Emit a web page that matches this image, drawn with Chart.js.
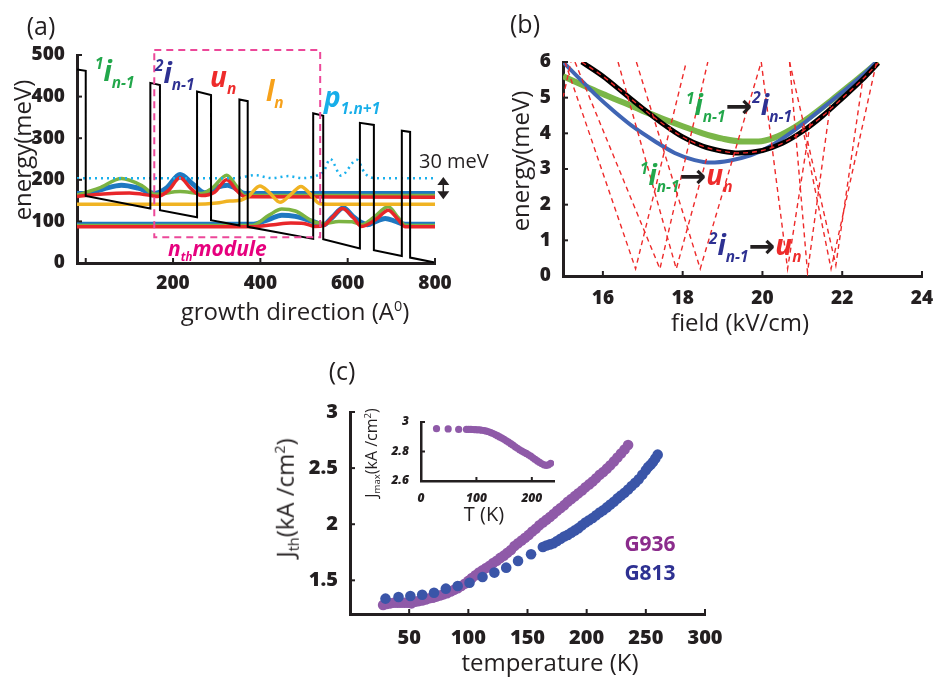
<!DOCTYPE html>
<html>
<head>
<meta charset="utf-8">
<script src="https://cdn.jsdelivr.net/npm/chart.js@4.4.1/dist/chart.umd.min.js"></script>
<style>
body{margin:0;background:#fff;width:940px;height:677px;position:relative;overflow:hidden;font-family:'Open Sans',sans-serif;color:#231f20;}
canvas{position:absolute;}
.t{position:absolute;white-space:nowrap;line-height:1;}
.t sup{font-size:0.6em;vertical-align:0.6em;}
.t sub{font-size:0.6em;vertical-align:-0.35em;}
.rot{transform:translate(-50%,-50%) rotate(-90deg);}
.ctr{transform:translate(-50%,-50%);}
.lab{position:absolute;white-space:nowrap;line-height:1;font-weight:bold;font-style:italic;font-size:28px;}
.lab sup{font-size:0.55em;vertical-align:0.75em;}
.lab sub{font-size:0.55em;vertical-align:-0.45em;}
.arr{font-style:normal;color:#231f20;font-family:'DejaVu Sans';font-weight:bold;font-size:32px;vertical-align:-0.05em;}
</style>
</head>
<body>
<canvas id="chartA" width="470" height="330" style="left:0;top:0;width:470px;height:330px"></canvas>
<canvas id="chartB" width="470" height="340" style="left:470px;top:0;width:470px;height:340px"></canvas>
<canvas id="chartC" width="470" height="347" style="left:270px;top:330px;width:470px;height:347px"></canvas>
<canvas id="chartD" width="200" height="120" style="left:370px;top:405px;width:200px;height:120px"></canvas>

<!-- panel (a) text -->
<div class="t ctr" style="left:41px;top:25px;font-size:25px">(a)</div>
<div class="t rot" style="left:22px;top:150px;font-size:24px">energy(meV)</div>
<div class="t ctr" style="left:295px;top:311px;font-size:24px">growth direction (A<sup>0</sup>)</div>
<div class="lab" style="left:95px;top:56px;color:#22a74b"><sup>1</sup>i<sub>n-1</sub></div>
<div class="lab" style="left:155px;top:58px;color:#2e3192"><sup>2</sup>i<sub>n-1</sub></div>
<div class="lab" style="left:210px;top:62px;color:#ee2b2b">u<sub>n</sub></div>
<div class="lab" style="left:266px;top:76px;color:#f7a11a">l<sub>n</sub></div>
<div class="lab" style="left:324px;top:82px;color:#17aee9">p<sub>1.n+1</sub></div>
<div class="lab" style="left:168px;top:238px;font-size:21px;color:#e6007e">n<sub>th</sub>module</div>
<div class="t" style="left:419px;top:151px;font-size:20px">30 meV</div>

<!-- panel (b) text -->
<div class="t ctr" style="left:525px;top:23px;font-size:25px">(b)</div>
<div class="t rot" style="left:520px;top:161px;font-size:24px">energy(meV)</div>
<div class="t ctr" style="left:740px;top:322px;font-size:24px">field (kV/cm)</div>
<div class="lab" style="left:686px;top:90px;color:#22a74b"><sup>1</sup>i<sub>n-1</sub><span class="arr">→</span><span style="color:#2e3192"><sup>2</sup>i<sub>n-1</sub></span></div>
<div class="lab" style="left:640px;top:160px;color:#22a74b"><sup>1</sup>i<sub>n-1</sub><span class="arr">→</span><span style="color:#ee2b2b">u<sub>n</sub></span></div>
<div class="lab" style="left:709px;top:230px;color:#2e3192"><sup>2</sup>i<sub>n-1</sub><span class="arr">→</span><span style="color:#ee2b2b">u<sub>n</sub></span></div>

<!-- panel (c) text -->
<div class="t ctr" style="left:342px;top:370px;font-size:25px">(c)</div>
<div class="t rot" style="left:287px;top:498px;font-size:24px">J<sub>th</sub>(kA /cm<sup>2</sup>)</div>
<div class="t ctr" style="left:550px;top:662px;font-size:24px">temperature (K)</div>
<div class="t rot" style="left:372px;top:453px;font-size:16px">J<sub>max</sub>(kA /cm<sup>2</sup>)</div>
<div class="t ctr" style="left:484px;top:514px;font-size:20px">T (K)</div>
<div class="t ctr" style="left:650px;top:543px;font-size:21px;font-weight:bold;color:#8b2c8c">G936</div>
<div class="t ctr" style="left:650px;top:572px;font-size:21px;font-weight:bold;color:#2e3192">G813</div>

<script>
// ---- panel (a): conduction band profile and wavefunctions (x in A, E in meV)
const xTicksA = [0, 200, 400, 600, 800];
const yTicksA = [0, 100, 200, 300, 400, 500];
const bandProfile = [[-20,465],[0,462],[0,161],[148,131],[148,433],[170,428],[170,127],[255,110],[255,412],[287,404],[287,103],[352,90],[352,393],[371,389],[371,87],[521,58],[521,360],[544,354],[544,57],[628,35],[628,337],[660,332],[660,31],[724,17],[724,318],[743,315],[743,13],[800,1]];
const moduleBox = [[157,512],[537,512],[537,62],[157,62],[157,512]];
const blueUpper = [[-20,167],[0,167],[40,178],[82,187],[120,180],[158,167],[185,180],[216,213],[245,190],[273,169],[300,182],[325,187],[342,180],[365,167],[800,167]];
const greenUpper = [[-20,163],[30,180],[82,203],[130,185],[158,165],[216,172],[265,167],[290,180],[323,211],[345,185],[365,162],[800,162]];
const redUpper = [[-20,160],[40,166],[100,168],[150,162],[165,160],[190,175],[216,205],[240,180],[265,162],[295,170],[323,200],[345,175],[365,159],[800,158]];
const orangeLn = [[-20,141],[250,141],[300,144],[330,149],[350,150],[372,160],[399,185],[420,170],[445,146],[470,165],[493,184],[515,165],[535,143],[560,141],[800,141]];
const cyanP = [[-20,204],[342,204],[388,211],[426,204],[464,209],[495,204],[529,210],[545,220],[560,250],[585,210],[621,248],[640,215],[663,204],[800,204]];
const blueLower = [[-20,93],[380,93],[420,105],[449,115],[480,112],[525,98],[545,92],[565,110],[590,133],[612,112],[632,97],[645,92],[665,100],[686,107],[710,100],[732,93],[800,93]];
const greenLower = [[-20,90],[380,90],[420,115],[449,130],[480,125],[525,98],[545,95],[580,100],[610,99],[632,92],[660,110],[693,135],[715,110],[732,91],[800,90]];
const redLower = [[-20,87],[380,87],[430,92],[470,96],[500,95],[525,88],[545,90],[565,110],[588,131],[612,110],[632,88],[665,105],[693,127],[715,105],[732,87],[800,87]];
const gapMarker = [819, 153, 207]; // x, lower E, upper E of the 30 meV arrow

// ---- panel (b): energy vs field
const xTicksB = [16, 18, 20, 22, 24];
const yTicksB = [0, 1, 2, 3, 4, 5, 6];
const blackB = [[15.47,6.0],[16.0,5.6],[16.5,5.15],[17,4.7],[17.5,4.27],[18,3.9],[18.5,3.64],[19,3.5],[19.4,3.45],[20,3.52],[20.5,3.72],[21,4.05],[21.5,4.48],[22,4.98],[22.5,5.5],[22.9,5.97]];
const blueB = [[15.0,6.0],[15.4,5.55],[15.8,5.1],[16.3,4.6],[16.8,4.15],[17.3,3.78],[17.8,3.45],[18.3,3.25],[18.7,3.18],[19.2,3.24],[19.7,3.38],[20.1,3.58],[20.5,3.85],[21,4.25],[21.5,4.7],[22,5.15],[22.5,5.62],[22.85,6.0]];
const greenB = [[15.0,5.6],[15.5,5.35],[16,5.1],[16.5,4.87],[17,4.63],[17.5,4.41],[18,4.2],[18.5,4.0],[19,3.85],[19.5,3.77],[19.9,3.77],[20.3,3.88],[20.7,4.1],[21.2,4.47],[21.7,4.9],[22.2,5.35],[22.9,6.0]];
const crossings = [
  [[15.0,5.0],[15.2,6.0]],
  [[15.05,6],[16.82,0.2],[18.09,6]],
  [[15.3,6],[17.43,0.2],[18.63,6]],
  [[16.38,6],[17.84,0.2],[18.6,3.3]],
  [[16.84,6],[18.44,0.2],[19.97,6]],
  [[19.97,6],[20.63,0.2],[21.2,4.3]],
  [[20.68,6],[21.13,0.1],[21.7,4.8]],
  [[21.0,4.2],[21.72,0.2],[22.86,6]],
  [[20.68,6],[21.84,0.3],[22.5,5.4]]
];

// ---- panel (c): threshold current vs temperature
const xTicksC = [50, 100, 150, 200, 250, 300];
const yTicksC = [1.5, 2, 2.5, 3];
const g813T = [30,41,51,61,71,81,91,101,112,122,132,142,153,163,166,169,172,175,178,181,184,187,190,193,196,199,202,205,208,211,214,217,220,223,226,229,232,235,238,241,244,247,250,252,254,256,258,260];
const g813J = [1.337,1.351,1.36,1.372,1.39,1.426,1.449,1.479,1.53,1.569,1.613,1.673,1.732,1.797,1.81,1.82,1.83,1.85,1.87,1.89,1.905,1.925,1.945,1.965,1.99,2.015,2.035,2.055,2.08,2.105,2.125,2.15,2.175,2.2,2.23,2.255,2.28,2.31,2.34,2.37,2.40,2.44,2.48,2.51,2.53,2.555,2.585,2.62];
const g936T = [28,31,34,37,40,43,46,49,52,55,58,61,64,67,70,73,76,79,82,85,88,91,94,97,100,103,106,109,112,115,118,121,124,127,130,133,136,139,142,145,148,151,154,157,160,163,166,169,172,175,178,181,184,187,190,193,196,199,202,205,208,211,214,217,220,223,226,229,232,235];
const g936J = [1.28,1.29,1.295,1.30,1.30,1.30,1.30,1.30,1.295,1.31,1.315,1.32,1.33,1.34,1.345,1.355,1.365,1.375,1.385,1.40,1.415,1.43,1.45,1.47,1.495,1.52,1.545,1.57,1.59,1.61,1.63,1.655,1.675,1.70,1.72,1.745,1.77,1.805,1.83,1.855,1.88,1.905,1.935,1.96,1.99,2.015,2.04,2.065,2.09,2.12,2.145,2.17,2.20,2.225,2.25,2.275,2.30,2.33,2.355,2.38,2.41,2.44,2.465,2.495,2.525,2.56,2.595,2.63,2.665,2.705];

// ---- inset: Jmax vs T
const xTicksD = [0, 100, 200];
const yTicksD = [2.6, 2.8, 3];
const insetT = [28,49,68,82,86,90,94,98,102,106,110,114,118,122,126,130,134,138,142,146,150,154,158,162,166,170,174,178,182,186,190,194,198,202,206,210,214,218,222,226,230,234];
const insetJ = [2.955,2.953,2.95,2.95,2.95,2.95,2.949,2.948,2.947,2.946,2.944,2.942,2.938,2.934,2.928,2.922,2.915,2.907,2.899,2.891,2.883,2.873,2.863,2.853,2.843,2.832,2.822,2.812,2.803,2.795,2.787,2.778,2.768,2.757,2.746,2.736,2.726,2.717,2.71,2.706,2.71,2.72];

const ink = '#231f20';

function xy(pairs){ return pairs.map(p => ({x:p[0], y:p[1]})); }
function zip(xs, ys){ return xs.map((v,i) => ({x:v, y:ys[i]})); }

function curve(pairs, color, width, extra){
  return Object.assign({data: xy(pairs), borderColor: color, borderWidth: width, pointRadius: 0,
    showLine: true, fill: false, cubicInterpolationMode: 'monotone'}, extra || {});
}

function axis(min, max, ticks, hide, fit, font, pad, horizontal){
  return {
    type: 'linear', min: min, max: max,
    afterBuildTicks: s => { s.ticks = ticks.map(v => ({value: v})); },
    afterFit: s => { if (horizontal) s.height = fit; else s.width = fit; },
    grid: {display: false},
    border: {display: true, width: 3, color: ink},
    ticks: {font: font, color: ink, padding: pad, autoSkip: false, maxRotation: 0,
      callback: v => hide.includes(v) ? '' : String(v)}
  };
}

// small tick marks drawn inside the axes
const innerTicks = {
  id: 'innerTicks',
  afterDraw(chart, args, opts){
    const ctx = chart.ctx, a = chart.chartArea;
    const len = opts.len || 5;
    ctx.save();
    ctx.strokeStyle = ink;
    ctx.lineWidth = opts.width || 2;
    Object.values(chart.scales).forEach(s => {
      s.ticks.forEach(t => {
        const p = s.getPixelForValue(t.value);
        ctx.beginPath();
        if (s.isHorizontal()) { ctx.moveTo(p, a.bottom); ctx.lineTo(p, a.bottom - len); }
        else { ctx.moveTo(a.left, p); ctx.lineTo(a.left + len, p); }
        ctx.stroke();
      });
    });
    ctx.restore();
  }
};

// the double headed arrow next to "30 meV"
const gapArrow = {
  id: 'gapArrow',
  afterDatasetsDraw(chart){
    const ctx = chart.ctx;
    const x = chart.scales.x.getPixelForValue(gapMarker[0]);
    const yb = chart.scales.y.getPixelForValue(gapMarker[1]);
    const yt = chart.scales.y.getPixelForValue(gapMarker[2]);
    ctx.save();
    ctx.strokeStyle = ink; ctx.fillStyle = ink; ctx.lineWidth = 1.5;
    ctx.beginPath(); ctx.moveTo(x, yt + 4); ctx.lineTo(x, yb - 4); ctx.stroke();
    ctx.beginPath(); ctx.moveTo(x, yt); ctx.lineTo(x - 6, yt + 8); ctx.lineTo(x + 6, yt + 8); ctx.closePath(); ctx.fill();
    ctx.beginPath(); ctx.moveTo(x, yb); ctx.lineTo(x - 6, yb - 8); ctx.lineTo(x + 6, yb - 8); ctx.closePath(); ctx.fill();
    ctx.restore();
  }
};

function options(pad, xs, ys){
  return {
    responsive: false, devicePixelRatio: 1, animation: false, events: [],
    layout: {padding: pad},
    scales: {x: xs, y: ys},
    plugins: {legend: {display: false}, tooltip: {enabled: false}, innerTicks: {len: 5, width: 2}}
  };
}

const tickFontA = {family: "'Open Sans'", size: 19, weight: 800};
const tickFontC = {family: "'Open Sans'", size: 20, weight: 800};
const tickFontD = {family: "'Open Sans'", size: 12, weight: 800, style: 'italic'};

// panel (a)
new Chart(document.getElementById('chartA'), {
  type: 'scatter',
  data: {datasets: [
    curve(moduleBox, '#ec4899', 2, {borderDash: [7, 5], cubicInterpolationMode: 'default', tension: 0, clip: false}),
    curve(bandProfile, '#000000', 2, {cubicInterpolationMode: 'default', tension: 0}),
    curve(cyanP, '#1ab0ec', 2.5, {borderDash: [2, 4]}),
    curve(orangeLn, '#f0b323', 3.5),
    curve(redUpper, '#e8262a', 3.5),
    curve(redLower, '#e8262a', 3.5),
    curve(greenUpper, '#7cb342', 3.5),
    curve(greenLower, '#7cb342', 3.5),
    curve(blueUpper, '#1f78c1', 5),
    curve(blueLower, '#1f78c1', 5)
  ]},
  options: options({top: 55, right: 35, left: 0, bottom: 0},
    axis(-20, 800, xTicksA, [0], 67, tickFontA, 1, true),
    axis(0, 500, yTicksA, [], 77, tickFontA, 4, false)),
  plugins: [innerTicks, gapArrow]
});

// panel (b)
const dashedB = crossings.map(seg => curve(seg, '#ee2a2a', 1.4, {borderDash: [5, 4], cubicInterpolationMode: 'default', tension: 0}));
new Chart(document.getElementById('chartB'), {
  type: 'scatter',
  data: {datasets: dashedB.concat([
    curve(blackB, '#ee2a2a', 1.4, {borderDash: [5, 4]}),
    curve(blackB, '#000000', 5),
    curve(blueB, '#4065b4', 4),
    curve(greenB, '#7ab648', 6)
  ])},
  options: options({top: 62, right: 18, left: 0, bottom: 0},
    axis(15, 24, xTicksB, [], 64, tickFontA, 3, true),
    axis(0, 6, yTicksB, [], 93, tickFontA, 4, false)),
  plugins: [innerTicks]
});

// panel (c)
new Chart(document.getElementById('chartC'), {
  type: 'scatter',
  data: {datasets: [
    {data: zip(g813T, g813J), pointRadius: 5.3, pointBackgroundColor: '#3a55a8', pointBorderWidth: 0, showLine: false},
    {data: zip(g936T, g936J), pointRadius: 5.3, pointBackgroundColor: '#8f5aa8', pointBorderWidth: 0, showLine: false}
  ]},
  options: options({top: 82, right: 35, left: 0, bottom: 0},
    axis(0, 300, xTicksC, [], 63, tickFontC, 4, true),
    axis(1.2, 3, yTicksC, [], 80, tickFontC, 4, false)),
  plugins: [innerTicks]
});

// inset of panel (c)
new Chart(document.getElementById('chartD'), {
  type: 'scatter',
  data: {datasets: [
    {data: zip(insetT, insetJ), pointRadius: 3.6, pointBackgroundColor: '#8f5aa8', pointBorderWidth: 0, showLine: false}
  ]},
  options: (function(){
    const o = options({top: 17, right: 16, left: 0, bottom: 0},
      axis(0, 240, xTicksD, [], 44, tickFontD, 2, true),
      axis(2.6, 3, yTicksD, [], 51, tickFontD, 4, false));
    o.scales.x.border.width = 2.5;
    o.scales.y.border.width = 2.5;
    o.plugins.innerTicks = {len: 4, width: 2};
    return o;
  })(),
  plugins: [innerTicks]
});
</script>
</body>
</html>
